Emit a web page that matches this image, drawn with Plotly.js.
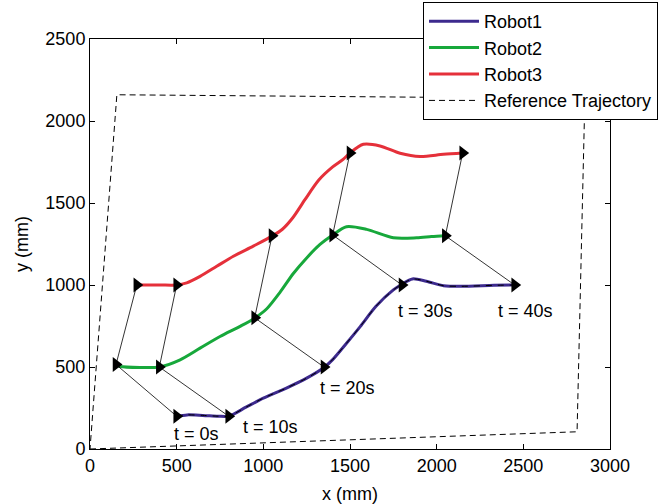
<!DOCTYPE html>
<html>
<head>
<meta charset="utf-8">
<script src="https://cdn.plot.ly/plotly-3.0.1.min.js"></script>
<style>html,body{margin:0;padding:0;background:#fff;}#chart{width:665px;height:504px;}</style>
</head>
<body>
<div id="chart"></div>
<script>
// Robot trajectories (mm)
const robot1X = [500, 560, 650, 740, 800, 900, 1000, 1130, 1250, 1350, 1400, 1480, 1560, 1650, 1750, 1800, 1860, 1940, 2040, 2140, 2330, 2450];
const robot1Y = [200, 208, 205, 200, 200, 255, 310, 370, 432, 497, 545, 645, 748, 870, 970, 1005, 1037, 1023, 996, 992, 998, 1000];
const robot2X = [150, 175, 290, 400, 520, 635, 750, 866, 950, 1020, 1096, 1173, 1250, 1327, 1400, 1480, 1596, 1750, 1885, 1970, 2050];
const robot2Y = [515, 503, 497, 500, 544, 615, 686, 748, 798, 855, 955, 1070, 1165, 1247, 1305, 1355, 1339, 1288, 1288, 1295, 1300];
const robot3X = [270, 290, 404, 500, 558, 635, 731, 827, 942, 1050, 1110, 1170, 1240, 1320, 1400, 1462, 1500, 1577, 1673, 1789, 1904, 2039, 2150];
const robot3Y = [1000, 1000, 1000, 1000, 1013, 1053, 1114, 1175, 1237, 1298, 1340, 1410, 1520, 1640, 1720, 1767, 1805, 1858, 1848, 1803, 1783, 1797, 1805];

// Reference trajectory corners
const refX = [0, 2810, 2855, 155, 0];
const refY = [0, 105, 2137, 2160, 0];

// Robot positions at sample times
const sampleTimes = ["t = 0s", "t = 10s", "t = 20s", "t = 30s", "t = 40s"];
const r1KeyX = [500, 800, 1350, 1800, 2450];
const r1KeyY = [200, 200, 500, 1000, 1000];
const r2KeyX = [150, 400, 950, 1400, 2050];
const r2KeyY = [515, 500, 800, 1305, 1300];
const r3KeyX = [270, 500, 1050, 1500, 2150];
const r3KeyY = [1000, 1000, 1300, 1805, 1805];

// Time label positions
const labelX = [615, 1040, 1485, 1937, 2514];
const labelY = [92, 133, 371, 839, 839];

const xTicks = [0, 500, 1000, 1500, 2000, 2500, 3000];
const yTicks = [0, 500, 1000, 1500, 2000, 2500];

const FONT = "Liberation Sans, Arial, Helvetica, sans-serif";
const purple = "#3d2a8e", green = "#17a83b", red = "#e5303a";

// connector lines at sample times
const connX = [], connY = [];
for (let i = 0; i < r1KeyX.length; i++) {
  connX.push(r1KeyX[i], r2KeyX[i], r3KeyX[i], null);
  connY.push(r1KeyY[i], r2KeyY[i], r3KeyY[i], null);
}
const allKeyX = r1KeyX.concat(r2KeyX, r3KeyX);
const allKeyY = r1KeyY.concat(r2KeyY, r3KeyY);

const traces = [
  {x: refX, y: refY, mode: "lines", name: "Reference Trajectory", legendrank: 4,
   line: {color: "black", width: 1, dash: "6px,4px"}},
  {x: robot1X, y: robot1Y, mode: "lines", name: "Robot1", legendrank: 1,
   line: {color: purple, width: 3, shape: "spline", smoothing: 0.8}},
  {x: robot2X, y: robot2Y, mode: "lines", name: "Robot2", legendrank: 2,
   line: {color: green, width: 3, shape: "spline", smoothing: 0.8}},
  {x: robot3X, y: robot3Y, mode: "lines", name: "Robot3", legendrank: 3,
   line: {color: red, width: 3, shape: "spline", smoothing: 0.8}},
  {x: robot1X, y: robot1Y, mode: "lines", showlegend: false, hoverinfo: "skip",
   line: {color: "black", width: 1, dash: "6px,6px", shape: "spline", smoothing: 0.8}},
  {x: connX, y: connY, mode: "lines", showlegend: false, hoverinfo: "skip",
   line: {color: "black", width: 0.8}},
  {x: allKeyX, y: allKeyY, mode: "markers", showlegend: false, hoverinfo: "skip",
   marker: {symbol: "triangle-right", size: 13, color: "black"}}
];

const annotations = sampleTimes.map((t, i) => ({
  x: labelX[i], y: labelY[i], xref: "x", yref: "y", text: t, showarrow: false,
  xanchor: "center", yanchor: "middle", font: {family: FONT, size: 18, color: "black"}
}));

const axisCommon = {
  showgrid: false, zeroline: false, showline: true, linecolor: "black", linewidth: 1,
  mirror: "ticks", ticks: "inside", ticklen: 5, tickcolor: "black", automargin: false,
  tickfont: {family: FONT, size: 18, color: "black"}
};

const layout = {
  width: 665, height: 504,
  margin: {l: 90, r: 55, t: 39, b: 55, autoexpand: false},
  paper_bgcolor: "white", plot_bgcolor: "white",
  font: {family: FONT, color: "black"},
  showlegend: true,
  legend: {x: 0.6404, xanchor: "left", y: 1.0902, yanchor: "top",
           bgcolor: "white", bordercolor: "black", borderwidth: 1, font: {family: FONT, size: 18},
           itemwidth: 50, tracegroupgap: 0},
  xaxis: Object.assign({}, axisCommon, {range: [0, 3000], tickvals: xTicks, ticktext: xTicks.map(String),
    title: {text: "x (mm)", font: {family: FONT, size: 18}, standoff: 12}}),
  yaxis: Object.assign({}, axisCommon, {range: [0, 2500], tickvals: yTicks, ticktext: yTicks.map(String),
    title: {text: "y (mm)", font: {family: FONT, size: 18}, standoff: 12}}),
  annotations: annotations
};

Plotly.newPlot("chart", traces, layout, {displayModeBar: false, staticPlot: true});
</script>
</body>
</html>
